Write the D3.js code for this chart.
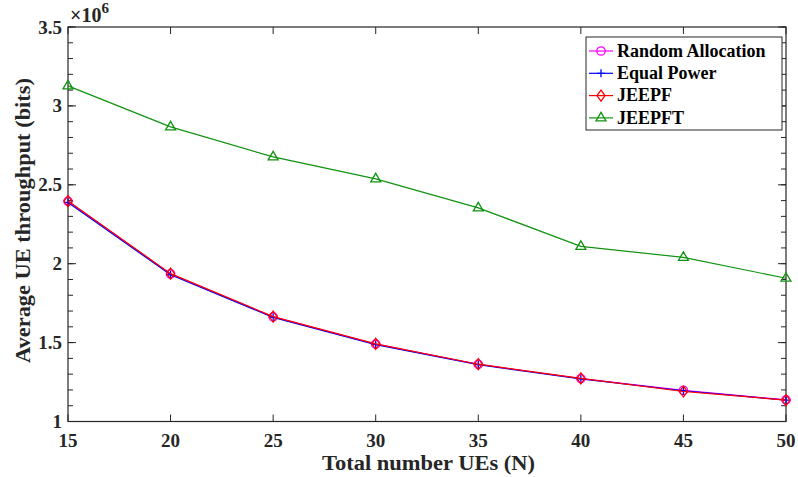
<!DOCTYPE html>
<html><head><meta charset="utf-8">
<script src="https://cdn.jsdelivr.net/npm/d3@7/dist/d3.min.js"></script>
<style>body{margin:0;background:#fff}svg{display:block}</style>
</head><body>
<svg id="c" width="798" height="477"></svg>
<script>
const xValues = [15, 20, 25, 30, 35, 40, 45, 50];
const randomAllocation = [2.395, 1.935, 1.663, 1.490, 1.362, 1.272, 1.197, 1.137];
const equalPower = [2.388, 1.930, 1.660, 1.487, 1.360, 1.270, 1.195, 1.135];
const jeepf = [2.397, 1.937, 1.665, 1.492, 1.363, 1.273, 1.190, 1.136];
const jeepft = [3.127, 2.867, 2.677, 2.538, 2.354, 2.110, 2.040, 1.908];
const xTicks = [15, 20, 25, 30, 35, 40, 45, 50];
const yTicks = [1, 1.5, 2, 2.5, 3, 3.5];
const seriesNames = ["Random Allocation", "Equal Power", "JEEPF", "JEEPFT"];
const seriesColors = ["#ff00ff", "#0000ff", "#ff0000", "#119211"];
const seriesMarkers = ["circle", "plus", "diamond", "triangle"];

const series = [randomAllocation, equalPower, jeepf, jeepft];
const svg = d3.select("#c");
const L = 68, R = 786, T = 27, B = 421.5;
const x = d3.scaleLinear().domain([15, 50]).range([L, R]);
const y = d3.scaleLinear().domain([1, 3.5]).range([B, T]);
const axisCol = "#262626";
const font = "'Liberation Serif','Times New Roman',serif";

// minor ticks
const minor = d3.range(1, 3.51, 0.1);
svg.append("g").selectAll("line").data(minor).join("line")
  .attr("x1", L).attr("x2", L + 5).attr("y1", d => y(d)).attr("y2", d => y(d))
  .attr("stroke", axisCol).attr("stroke-width", 1);
svg.append("g").selectAll("line").data(minor).join("line")
  .attr("x1", R).attr("x2", R - 5).attr("y1", d => y(d)).attr("y2", d => y(d))
  .attr("stroke", axisCol).attr("stroke-width", 1);

// major ticks
svg.append("g").selectAll("line").data(yTicks).join("line")
  .attr("x1", L).attr("x2", L + 8).attr("y1", d => y(d)).attr("y2", d => y(d))
  .attr("stroke", axisCol);
svg.append("g").selectAll("line").data(yTicks).join("line")
  .attr("x1", R).attr("x2", R - 8).attr("y1", d => y(d)).attr("y2", d => y(d))
  .attr("stroke", axisCol);
svg.append("g").selectAll("line").data(xTicks).join("line")
  .attr("x1", d => x(d)).attr("x2", d => x(d)).attr("y1", B).attr("y2", B - 7)
  .attr("stroke", axisCol);
svg.append("g").selectAll("line").data(xTicks).join("line")
  .attr("x1", d => x(d)).attr("x2", d => x(d)).attr("y1", T).attr("y2", T + 7)
  .attr("stroke", axisCol);

// box
svg.append("rect").attr("x", L).attr("y", T).attr("width", R - L).attr("height", B - T)
  .attr("fill", "none").attr("stroke", axisCol).attr("stroke-width", 1.2);

// tick labels
svg.append("g").selectAll("text").data(yTicks).join("text")
  .attr("x", L - 6).attr("y", d => y(d) + 6.5).attr("text-anchor", "end")
  .attr("font-family", font).attr("font-weight", "bold").attr("font-size", 19)
  .attr("fill", axisCol).text(d => d3.format("")(d));
svg.append("g").selectAll("text").data(xTicks).join("text")
  .attr("x", d => x(d)).attr("y", B + 25).attr("text-anchor", "middle")
  .attr("font-family", font).attr("font-weight", "bold").attr("font-size", 19)
  .attr("fill", axisCol).text(d => d);

// exponent
const ex = svg.append("text").attr("x", L + 2).attr("y", 22)
  .attr("font-family", font).attr("font-weight", "bold").attr("font-size", 20).attr("fill", axisCol);
ex.append("tspan").text("×10");
ex.append("tspan").attr("dy", -9).attr("font-size", 15).text("6");

// axis titles
svg.append("text").attr("x", 428.5).attr("y", 469.5).attr("text-anchor", "middle")
  .attr("font-family", font).attr("font-weight", "bold").attr("font-size", 20)
  .attr("textLength", 213).attr("lengthAdjust", "spacingAndGlyphs")
  .attr("fill", axisCol).text("Total number UEs (N)");
svg.append("text").attr("transform", `translate(30,220.5) rotate(-90)`)
  .attr("text-anchor", "middle")
  .attr("font-family", font).attr("font-weight", "bold").attr("font-size", 20)
  .attr("textLength", 285).attr("lengthAdjust", "spacingAndGlyphs")
  .attr("fill", axisCol).text("Average UE throughput (bits)");

function marker(g, type, color, cx, cy) {
  if (type === "circle") {
    g.append("circle").attr("cx", cx).attr("cy", cy).attr("r", 4.2)
      .attr("fill", "none").attr("stroke", color).attr("stroke-width", 1.3);
  } else if (type === "plus") {
    g.append("path").attr("d", `M${cx - 4},${cy}H${cx + 4}M${cx},${cy - 4}V${cy + 4}`)
      .attr("stroke", color).attr("stroke-width", 1.3);
  } else if (type === "diamond") {
    g.append("path").attr("d", `M${cx},${cy - 5.5}L${cx + 4},${cy}L${cx},${cy + 5.5}L${cx - 4},${cy}Z`)
      .attr("fill", "none").attr("stroke", color).attr("stroke-width", 1.3);
  } else {
    g.append("path").attr("d", `M${cx},${cy - 5.5}L${cx + 5},${cy + 3}L${cx - 5},${cy + 3}Z`)
      .attr("fill", "none").attr("stroke", color).attr("stroke-width", 1.3);
  }
}

const line = d3.line().x((d, i) => x(xValues[i])).y(d => y(d));
series.forEach((s, k) => {
  const g = svg.append("g");
  g.append("path").datum(s).attr("d", line).attr("fill", "none")
    .attr("stroke", seriesColors[k]).attr("stroke-width", 1.2);
  s.forEach((v, i) => marker(g, seriesMarkers[k], seriesColors[k], x(xValues[i]), y(v)));
});

// legend
const lg = svg.append("g");
lg.append("rect").attr("x", 586).attr("y", 37).attr("width", 196).attr("height", 93)
  .attr("fill", "#fff").attr("stroke", axisCol).attr("stroke-width", 1);
seriesNames.forEach((n, k) => {
  const yy = 51 + k * 22.3;
  lg.append("line").attr("x1", 589).attr("x2", 613).attr("y1", yy).attr("y2", yy)
    .attr("stroke", seriesColors[k]).attr("stroke-width", 1.2);
  marker(lg, seriesMarkers[k], seriesColors[k], 601, yy);
  lg.append("text").attr("x", 617).attr("y", yy + 5.8)
    .attr("font-family", font).attr("font-weight", "bold").attr("font-size", 18)
    .attr("fill", "#000").text(n);
});
</script>
</body></html>
